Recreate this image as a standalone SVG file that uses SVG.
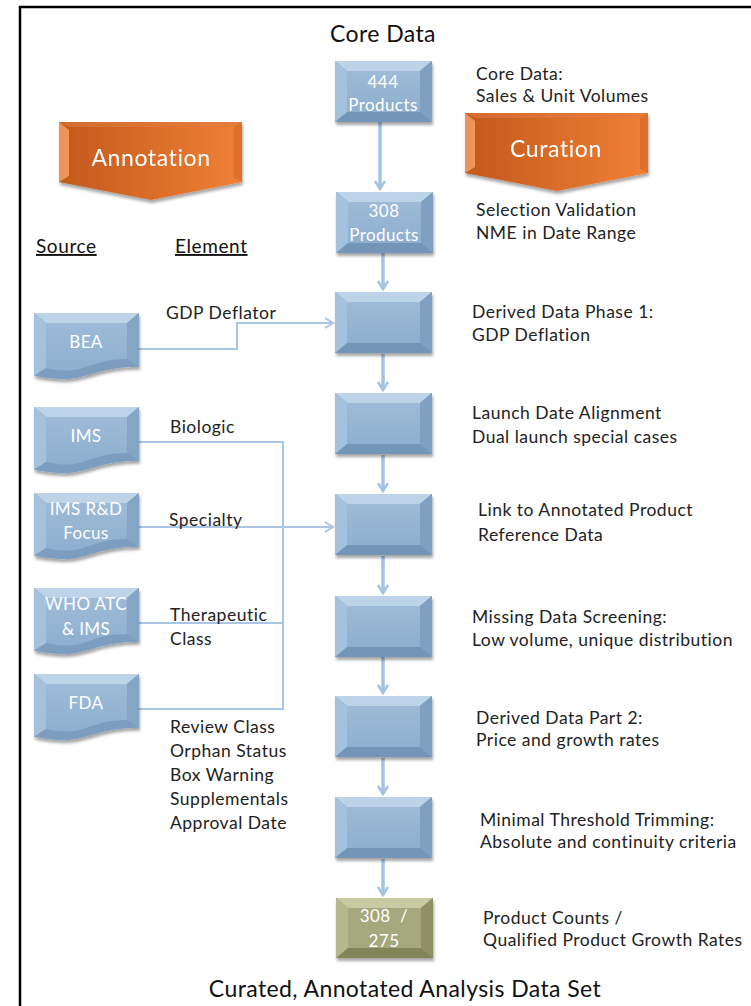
<svg xmlns="http://www.w3.org/2000/svg" xmlns:xlink="http://www.w3.org/1999/xlink" width="751" height="1006" viewBox="0 0 751 1006">
  <style>
    text { font-family: Lato, "Open Sans", "DejaVu Sans", sans-serif; }
    .title { font-size: 23px; letter-spacing: 0.4px; fill: #111; text-anchor: middle; }
    .note { font-size: 17.5px; letter-spacing: 0.5px; fill: #222; }
    .lbl { font-size: 17.5px; letter-spacing: 0.5px; fill: #222; }
    .hdr { font-size: 19px; letter-spacing: 0.6px; fill: #111; text-decoration: underline; }
    .box-t { font-size: 17px; letter-spacing: 0.4px; fill: #fff; text-anchor: middle; }
    .arr-t { font-size: 23px; letter-spacing: 0.6px; fill: #fff; text-anchor: middle; }
    .flow { fill: none; stroke: #a3c3e3; stroke-width: 3.5; }
    .feed { fill: none; stroke: #a8c6e4; stroke-width: 2; }
  </style>
  <defs>
    <filter id="shadow" x="-20%" y="-20%" width="140%" height="150%">
      <feDropShadow dx="1" dy="3" stdDeviation="1.6" flood-color="#000" flood-opacity="0.35"/>
    </filter>
    <linearGradient id="orange" x1="0" y1="0" x2="1" y2="0">
      <stop offset="0" stop-color="#c2591d"/>
      <stop offset="1" stop-color="#f08036"/>
    </linearGradient>
    <linearGradient id="blueFace" x1="0" y1="0" x2="0" y2="1">
      <stop offset="0" stop-color="#9dbbd8"/>
      <stop offset="1" stop-color="#8eafcf"/>
    </linearGradient>
    <marker id="headBig" viewBox="-10 -7 12 14" markerWidth="12" markerHeight="14" refX="0" refY="0" orient="auto" markerUnits="userSpaceOnUse">
      <path d="M-8,-5 L0,0 L-8,5" fill="none" stroke="#a3c3e3" stroke-width="2.5"/>
    </marker>
    <marker id="headSmall" viewBox="-10 -7 12 14" markerWidth="12" markerHeight="14" refX="0" refY="0" orient="auto" markerUnits="userSpaceOnUse">
      <path d="M-8,-5 L0,0 L-8,5" fill="none" stroke="#a8c6e4" stroke-width="2"/>
    </marker>
    <!-- bevelled process box, 97 x 61 -->
    <g id="bevelBlue">
      <rect x="0" y="0" width="97" height="61" fill="#7396b8"/>
      <polygon points="0,0 97,0 85,10 12,10" fill="#bcd3e8"/>
      <polygon points="0,0 12,10 12,51 0,61" fill="#a6c1db"/>
      <polygon points="97,0 97,61 85,51 85,10" fill="#7fa0c1"/>
      <rect x="12" y="10" width="73" height="41" fill="url(#blueFace)"/>
    </g>
    <g id="bevelGreen">
      <rect x="0" y="0" width="97" height="60" fill="#82845a"/>
      <polygon points="0,0 97,0 85,10 12,10" fill="#c8caa2"/>
      <polygon points="0,0 12,10 12,50 0,60" fill="#b5b78d"/>
      <polygon points="97,0 97,60 85,50 85,10" fill="#8f9165"/>
      <rect x="12" y="10" width="73" height="40" fill="#a5a77b"/>
    </g>
    <!-- bevelled document shape, 105 x 67 -->
    <g id="docBlue">
      <path d="M0,0 H105 V53.7 C52.5,53.7 52.5,74.2 0,62.6 Z" fill="#7b9dbf"/>
      <polygon points="0,0 105,0 93,10 12,10" fill="#bcd3e8"/>
      <polygon points="0,0 12,10 12,55 0,62.6" fill="#a6c1db"/>
      <polygon points="105,0 105,53.7 93,46 93,10" fill="#84a5c5"/>
      <path d="M12,10 H93 V46 C52.5,46 52.5,64 12,55 Z" fill="url(#blueFace)"/>
    </g>
    <!-- down-pointing pentagon banner, 183 x 78 -->
    <g id="banner">
      <path d="M0,0 H183 V60 L92,78 L0,60 Z" fill="url(#orange)"/>
      <polygon points="0,0 10,8 10,54 0,60" fill="#f5a063" opacity="0.85"/>
      <polygon points="0,0 183,0 175,5 10,5" fill="#e07a3c" opacity="0.6"/>
      <polygon points="183,0 183,60 175,56 175,5" fill="#d9682a" opacity="0.7"/>
    </g>
  </defs>

  <rect x="0" y="0" width="751" height="1006" fill="#fff"/>
  <!-- frame -->
  <path d="M20,1006 V7 H751" fill="none" stroke="#000" stroke-width="2.5"/>

  <text class="title" x="383" y="42">Core Data</text>
  <text class="title" x="405" y="997">Curated, Annotated Analysis Data Set</text>

  <!-- connectors -->
  <g id="connectors">
    <path class="flow" d="M380,121 V189" marker-end="url(#headBig)"/>
    <path class="flow" d="M383,253 V289" marker-end="url(#headBig)"/>
    <path class="flow" d="M383,354 V390" marker-end="url(#headBig)"/>
    <path class="flow" d="M383,455 V491" marker-end="url(#headBig)"/>
    <path class="flow" d="M383,556 V593" marker-end="url(#headBig)"/>
    <path class="flow" d="M383,657 V693" marker-end="url(#headBig)"/>
    <path class="flow" d="M383,758 V794" marker-end="url(#headBig)"/>
    <path class="flow" d="M383,859 V895" marker-end="url(#headBig)"/>
    <path class="feed" d="M139,349 H237 V323 H333" marker-end="url(#headSmall)"/>
    <path class="feed" d="M139,442 H283 V709 H139"/>
    <path class="feed" d="M139,527 H333" marker-end="url(#headSmall)"/>
    <path class="feed" d="M139,623 H283"/>
  </g>

  <!-- banners -->
  <g id="annotation" filter="url(#shadow)">
    <use xlink:href="#banner" x="59" y="122"/>
    <text class="arr-t" x="151" y="166">Annotation</text>
  </g>
  <g id="curation" filter="url(#shadow)">
    <use xlink:href="#banner" x="465" y="113"/>
    <text class="arr-t" x="556" y="157">Curation</text>
  </g>

  <text class="hdr" x="36" y="253">Source</text>
  <text class="hdr" x="175" y="253">Element</text>

  <!-- core flow boxes -->
  <g id="box-444">
    <use xlink:href="#bevelBlue" x="335" y="61" filter="url(#shadow)"/>
    <text class="box-t" x="383" y="88">444</text>
    <text class="box-t" x="383" y="111">Products</text>
  </g>
  <g id="box-308">
    <use xlink:href="#bevelBlue" x="336" y="192" filter="url(#shadow)"/>
    <text class="box-t" x="384" y="217">308</text>
    <text class="box-t" x="384" y="241">Products</text>
  </g>
  <g id="box-gdp"><use xlink:href="#bevelBlue" x="335" y="292" filter="url(#shadow)"/></g>
  <g id="box-launch"><use xlink:href="#bevelBlue" x="335" y="393" filter="url(#shadow)"/></g>
  <g id="box-link"><use xlink:href="#bevelBlue" x="335" y="494" filter="url(#shadow)"/></g>
  <g id="box-missing"><use xlink:href="#bevelBlue" x="335" y="596" filter="url(#shadow)"/></g>
  <g id="box-derived2"><use xlink:href="#bevelBlue" x="335" y="696" filter="url(#shadow)"/></g>
  <g id="box-trim"><use xlink:href="#bevelBlue" x="335" y="797" filter="url(#shadow)"/></g>
  <g id="box-final">
    <use xlink:href="#bevelGreen" x="336" y="898" filter="url(#shadow)"/>
    <text class="box-t" x="384" y="922" xml:space="preserve">308  /</text>
    <text class="box-t" x="384" y="947">275</text>
  </g>

  <!-- source documents -->
  <g id="doc-bea">
    <use xlink:href="#docBlue" x="34" y="313" filter="url(#shadow)"/>
    <text class="box-t" x="86" y="348">BEA</text>
  </g>
  <g id="doc-ims">
    <use xlink:href="#docBlue" x="34" y="407" filter="url(#shadow)"/>
    <text class="box-t" x="86" y="442">IMS</text>
  </g>
  <g id="doc-imsrd">
    <use xlink:href="#docBlue" x="34" y="493" filter="url(#shadow)"/>
    <text class="box-t" x="86" y="515">IMS R&amp;D</text>
    <text class="box-t" x="86" y="539">Focus</text>
  </g>
  <g id="doc-who">
    <use xlink:href="#docBlue" x="34" y="588" filter="url(#shadow)"/>
    <text class="box-t" x="86" y="610">WHO ATC</text>
    <text class="box-t" x="86" y="635">&amp; IMS</text>
  </g>
  <g id="doc-fda">
    <use xlink:href="#docBlue" x="34" y="674" filter="url(#shadow)"/>
    <text class="box-t" x="86" y="709">FDA</text>
  </g>

  <!-- element labels -->
  <g id="elements">
    <text class="lbl" x="166" y="319">GDP Deflator</text>
    <text class="lbl" x="170" y="433">Biologic</text>
    <text class="lbl" x="169" y="526">Specialty</text>
    <text class="lbl" x="170" y="621">Therapeutic</text>
    <text class="lbl" x="170" y="645">Class</text>
    <text class="lbl" x="170" y="733">Review Class</text>
    <text class="lbl" x="170" y="757">Orphan Status</text>
    <text class="lbl" x="170" y="781">Box Warning</text>
    <text class="lbl" x="170" y="805">Supplementals</text>
    <text class="lbl" x="170" y="829">Approval Date</text>
  </g>

  <!-- step descriptions -->
  <g id="notes">
    <text class="note" x="476" y="80">Core Data:</text>
    <text class="note" x="476" y="102">Sales &amp; Unit Volumes</text>
    <text class="note" x="476" y="216">Selection Validation</text>
    <text class="note" x="476" y="239">NME in Date Range</text>
    <text class="note" x="472" y="318">Derived Data Phase 1:</text>
    <text class="note" x="472" y="341">GDP Deflation</text>
    <text class="note" x="472" y="419">Launch Date Alignment</text>
    <text class="note" x="472" y="443">Dual launch special cases</text>
    <text class="note" x="478" y="516">Link to Annotated Product</text>
    <text class="note" x="478" y="541">Reference Data</text>
    <text class="note" x="472" y="623">Missing Data Screening:</text>
    <text class="note" x="472" y="646">Low volume, unique distribution</text>
    <text class="note" x="476" y="724">Derived Data Part 2:</text>
    <text class="note" x="476" y="746">Price and growth rates</text>
    <text class="note" x="480" y="826">Minimal Threshold Trimming:</text>
    <text class="note" x="480" y="848">Absolute and continuity criteria</text>
    <text class="note" x="483" y="924">Product Counts /</text>
    <text class="note" x="483" y="946">Qualified Product Growth Rates</text>
  </g>
</svg>
